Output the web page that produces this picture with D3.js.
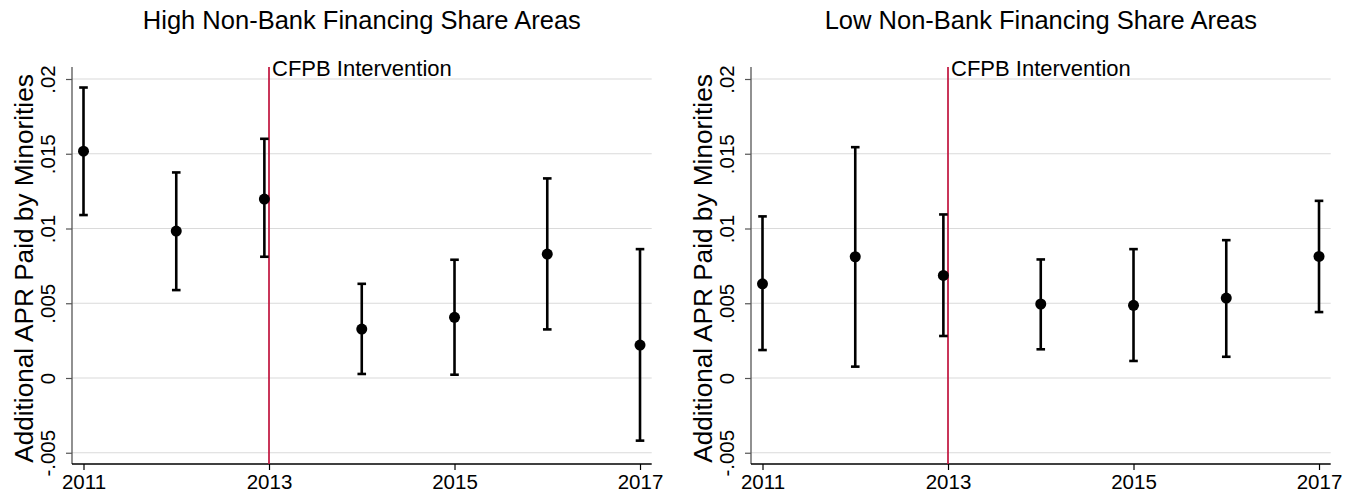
<!DOCTYPE html>
<html>
<head>
<meta charset="utf-8">
<script src="https://cdn.jsdelivr.net/npm/d3@7"></script>
<style>
  html, body { margin: 0; padding: 0; background: #fff; }
  svg { display: block; font-family: "Liberation Sans", Arial, sans-serif; }
</style>
</head>
<body>
<svg id="chart" width="1356" height="494"></svg>
<script>
// ---- data ----
const years = [2011, 2012, 2012.95, 2014, 2015, 2016, 2017];
const xTicks = [2011, 2013, 2015, 2017];
const yTicks = [-0.005, 0, 0.005, 0.01, 0.015, 0.02];
const yTickLabels = ["-.005", "0", ".005", ".01", ".015", ".02"];
const interventionYear = 2013;
const interventionLabel = "CFPB Intervention";
const yTitle = "Additional APR Paid by Minorities";

const highTitle = "High Non-Bank Financing Share Areas";
const highEst = [0.01517, 0.00983, 0.01197, 0.003275, 0.00406, 0.00829, 0.0022];
const highLo  = [0.0109, 0.00588, 0.00811, 0.00027, 0.00022, 0.00325, -0.00419];
const highHi  = [0.01943, 0.01375, 0.01600, 0.0063, 0.00791, 0.01335, 0.00862];

const lowTitle = "Low Non-Bank Financing Share Areas";
const lowEst = [0.0063, 0.00811, 0.00686, 0.00495, 0.00486, 0.00535, 0.00813];
const lowLo  = [0.00187, 0.00076, 0.00281, 0.00192, 0.00114, 0.00142, 0.00441];
const lowHi  = [0.01081, 0.01544, 0.01094, 0.00793, 0.00862, 0.00922, 0.01185];

const svg = d3.select("#chart");
const FONT = "Liberation Sans, Arial, sans-serif";

function panel(left, right, title, est, lo, hi) {
  const top = 67, bottom = 464;
  const x = d3.scaleLinear().domain([2010.876, 2017.126]).range([left, right]);
  const y = d3.scaleLinear().domain([0, 0.02]).range([378, 79]);
  const g = svg.append("g");

  // grid lines
  g.selectAll("line.grid").data(yTicks).enter().append("line")
    .attr("x1", left).attr("x2", right)
    .attr("y1", d => y(d)).attr("y2", d => y(d))
    .attr("stroke", "#dadada").attr("stroke-width", 1.2);

  // y axis
  const yAxis = d3.axisLeft(y).tickValues(yTicks).tickSize(6)
    .tickFormat((d, i) => yTickLabels[i]);
  const ya = g.append("g").attr("transform", `translate(${left},0)`).call(yAxis);
  ya.select(".domain").remove();
  ya.selectAll(".tick line").attr("stroke", "#555").attr("stroke-width", 1.2);
  ya.selectAll(".tick text")
    .attr("transform", "rotate(-90)")
    .attr("x", 0).attr("y", -17).attr("dy", 0)
    .attr("text-anchor", "middle")
    .style("font-size", "20.5px").attr("fill", "#000")
    .style("font-family", FONT);
  g.append("line").attr("x1", left).attr("x2", left).attr("y1", top).attr("y2", bottom)
    .attr("stroke", "#555").attr("stroke-width", 1.3);

  // x axis
  const xAxis = d3.axisBottom(x).tickValues(xTicks).tickSize(6).tickFormat(d3.format("d"));
  const xa = g.append("g").attr("transform", `translate(0,${bottom})`).call(xAxis);
  xa.select(".domain").remove();
  xa.selectAll(".tick line").attr("stroke", "#000").attr("stroke-width", 1.2);
  xa.selectAll(".tick text").attr("y", 25).attr("dy", 0)
    .style("font-size", "20.5px").attr("fill", "#000")
    .style("font-family", FONT);
  g.append("line").attr("x1", left).attr("x2", right).attr("y1", bottom).attr("y2", bottom)
    .attr("stroke", "#000").attr("stroke-width", 1.3);

  // intervention line
  g.append("line").attr("x1", x(interventionYear)).attr("x2", x(interventionYear))
    .attr("y1", top).attr("y2", bottom)
    .attr("stroke", "#c0123c").attr("stroke-width", 1.7);
  g.append("text").attr("x", x(interventionYear) + 3).attr("y", 76)
    .style("font-size", "22px").text(interventionLabel);

  // title
  g.append("text").attr("x", (left + right) / 2).attr("y", 29)
    .attr("text-anchor", "middle").style("font-size", "25.5px").text(title);

  // y axis title
  g.append("text")
    .attr("transform", `translate(${left - 39},${(top + bottom) / 2 + 3}) rotate(-90)`)
    .attr("text-anchor", "middle").style("font-size", "26.2px").text(yTitle);

  // error bars
  const cap = 4.3;
  const pts = years.map((yr, i) => ({ yr, est: est[i], lo: lo[i], hi: hi[i] }));
  const eb = g.selectAll("g.eb").data(pts).enter().append("g")
    .attr("stroke", "#000").attr("stroke-width", 2.6);
  eb.append("line").attr("x1", d => x(d.yr)).attr("x2", d => x(d.yr))
    .attr("y1", d => y(d.lo)).attr("y2", d => y(d.hi));
  eb.append("line").attr("x1", d => x(d.yr) - cap).attr("x2", d => x(d.yr) + cap)
    .attr("y1", d => y(d.lo)).attr("y2", d => y(d.lo));
  eb.append("line").attr("x1", d => x(d.yr) - cap).attr("x2", d => x(d.yr) + cap)
    .attr("y1", d => y(d.hi)).attr("y2", d => y(d.hi));
  g.selectAll("circle.pt").data(pts).enter().append("circle")
    .attr("cx", d => x(d.yr)).attr("cy", d => y(d.est)).attr("r", 5.5)
    .attr("fill", "#000");
}

panel(72, 651.7, highTitle, highEst, highLo, highHi);
panel(751, 1330.7, lowTitle, lowEst, lowLo, lowHi);
</script>
</body>
</html>
